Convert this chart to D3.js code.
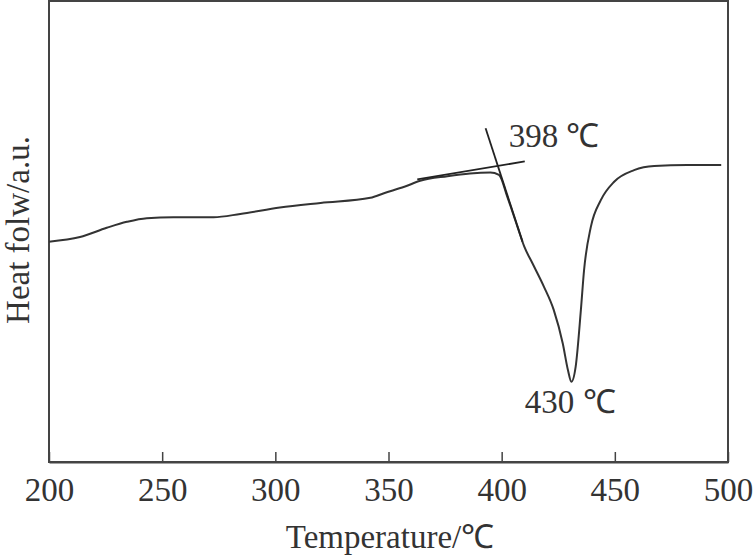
<!DOCTYPE html>
<html>
<head>
<meta charset="utf-8">
<script src="https://cdn.jsdelivr.net/npm/d3@7"></script>
<style>
  body { margin: 0; background: #fff; }
  text { font-family: 'Liberation Serif', 'Times New Roman', serif; fill: #333; }
</style>
</head>
<body>
<svg></svg>
<script>
const WIDTH = 755;
const HEIGHT = 557;
const margin = { top: 1, right: 27, bottom: 95, left: 49 };

// DSC curve, temperature (°C) vs heat flow (a.u.)
const temps = [200, 213.7, 225.5, 234.4, 243.2, 255, 272.7, 284.5, 302, 320, 342, 348, 357, 364, 376, 386,
  395, 398.8, 402.5, 407, 410, 413.6, 418.7, 423, 427, 429.3, 430.8, 432.7, 435, 436.4, 439.4, 443.8,
  449.7, 458.5, 467.4, 482, 497];
const heatFlow = [47.8, 48.8, 50.8, 52.1, 52.9, 53.1, 53.1, 53.8, 55.2, 56.2, 57.3, 58.3, 59.7, 61.0, 62.0, 62.6,
  62.8, 62.3, 57.5, 51.0, 46.7, 43.1, 38.0, 33.0, 25.7, 19.9, 17.4, 20.7, 33.0, 41.6, 51.0, 56.8,
  60.8, 63.3, 64.2, 64.4, 64.4];

// tangent lines used for the onset temperature
const baselineTangent = [[362.7, 61.3], [410.2, 65.2]];
const slopeTangent = [[392.9, 72.4], [409.2, 47.8]];

const peakLabels = ['398 ℃', '430 ℃'];
const peakLabelPos = [[403.1, 68.3], [410.2, 10.6]];

const xTicks = [200, 250, 300, 350, 400, 450, 500];

window.onload = () => {
  const svg = d3.select('svg')
      .attr('width', WIDTH)
      .attr('height', HEIGHT);

  const w = WIDTH - margin.left - margin.right;
  const h = HEIGHT - margin.top - margin.bottom;

  const x = d3.scaleLinear().domain([200, 500]).range([0, w]);
  const y = d3.scaleLinear().domain([0, 100]).range([h, 0]);

  const g = svg.append('g')
      .attr('transform', `translate(${margin.left}, ${margin.top})`);

  // frame
  g.append('rect')
      .attr('width', w)
      .attr('height', h)
      .attr('fill', 'none')
      .attr('stroke', '#444')
      .attr('stroke-width', 2);

  const xAxis = g.append('g')
      .attr('transform', `translate(0, ${h})`)
      .call(d3.axisBottom(x)
        .tickValues(xTicks)
        .tickSizeInner(-10)
        .tickSizeOuter(0)
        .tickPadding(16));
  xAxis.select('.domain').attr('stroke', '#444').attr('stroke-width', 2);
  xAxis.selectAll('.tick line').attr('stroke', '#444').attr('stroke-width', 1.5);
  xAxis.selectAll('.tick text')
      .attr('font-family', 'Liberation Serif')
      .attr('font-size', 33)
      .attr('fill', '#333');

  const line = d3.line()
      .x((d) => x(d[0]))
      .y((d) => y(d[1]))
      .curve(d3.curveMonotoneX);

  const curve = temps.map((t, i) => [t, heatFlow[i]]);
  g.append('path')
      .datum(curve)
      .attr('fill', 'none')
      .attr('stroke', '#333')
      .attr('stroke-width', 2)
      .attr('d', line);

  const straight = d3.line()
      .x((d) => x(d[0]))
      .y((d) => y(d[1]));
  [baselineTangent, slopeTangent].forEach((seg) => {
    g.append('path')
        .datum(seg)
        .attr('fill', 'none')
        .attr('stroke', '#222')
        .attr('stroke-width', 1.8)
        .attr('d', straight);
  });

  g.selectAll('.peak-label')
      .data(peakLabels)
    .enter().append('text')
      .attr('class', 'peak-label')
      .attr('x', (d, i) => x(peakLabelPos[i][0]))
      .attr('y', (d, i) => y(peakLabelPos[i][1]))
      .attr('font-size', 33)
      .text((d) => d);

  svg.append('text')
      .attr('x', 390)
      .attr('y', 548)
      .attr('text-anchor', 'middle')
      .attr('font-size', 33)
      .text('Temperature/℃');

  svg.append('text')
      .attr('transform', 'translate(29, 230) rotate(-90)')
      .attr('text-anchor', 'middle')
      .attr('font-size', 33)
      .text('Heat folw/a.u.');
};
</script>
</body>
</html>
